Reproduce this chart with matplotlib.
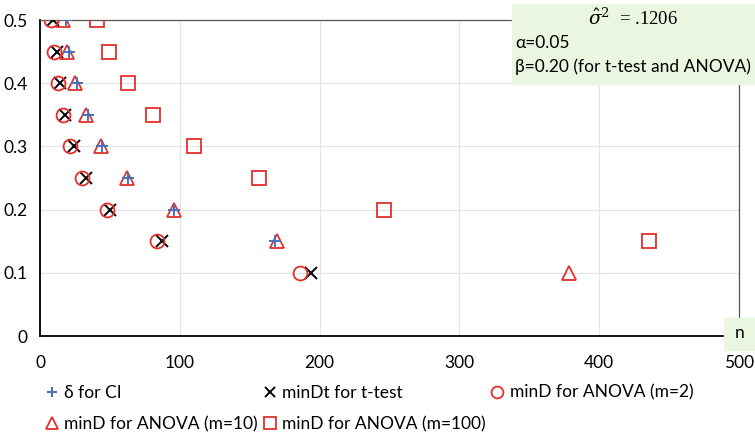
import matplotlib
matplotlib.use("Agg")
import matplotlib.pyplot as plt
from matplotlib.patches import Rectangle

plt.rcParams['font.family'] = ['Lato', 'DejaVu Sans']
plt.rcParams['mathtext.fontset'] = 'dejavuserif'

# effect sizes (y) and the sample sizes n (x) for each series
d_ci = [0.5, 0.45, 0.4, 0.35, 0.3, 0.25, 0.2, 0.15]
n_ci = [18.5, 21, 26.4, 34, 44.6, 63.3, 96, 168.3]

d_t = [0.5, 0.45, 0.4, 0.35, 0.3, 0.25, 0.2, 0.15, 0.1]
n_t = [9.6, 12.5, 14.4, 17.7, 24, 33.1, 50.4, 87, 193.7]

d_m2 = [0.5, 0.45, 0.4, 0.35, 0.3, 0.25, 0.2, 0.15, 0.1]
n_m2 = [7.7, 10.1, 12.9, 16.3, 21.6, 30.4, 48, 84, 186.3]

d_m10 = [0.5, 0.45, 0.4, 0.35, 0.3, 0.25, 0.2, 0.15, 0.1]
n_m10 = [16.8, 19.6, 24.7, 32.9, 43.7, 62.3, 95.9, 169.5, 378.4]

d_m100 = [0.5, 0.45, 0.4, 0.35, 0.3, 0.25, 0.2, 0.15]
n_m100 = [40.8, 49.6, 62.8, 80.8, 109.8, 157, 245.8, 435.7]

labels = ['δ for CI', 'minDt for t-test', 'minD for ANOVA (m=2)',
          'minD for ANOVA (m=10)', 'minD for ANOVA (m=100)']

red = '#E3302A'
blue = '#4472C4'
fs = 12.5

fig = plt.figure(figsize=(7.55, 4.4), dpi=100)
ax = fig.add_axes([40 / 755, 1 - 336 / 440, 699 / 755, 316 / 440])

h1, = ax.plot(n_ci, d_ci, ls='none', marker='+', ms=9, mew=1.4, color=blue, zorder=4)
h2, = ax.plot(n_t, d_t, ls='none', marker='x', ms=8, mew=1.4, color='black', zorder=3)
h3, = ax.plot(n_m2, d_m2, ls='none', marker='o', ms=10, mew=1.3, mfc='none', mec=red, zorder=3)
h4, = ax.plot(n_m10, d_m10, ls='none', marker='^', ms=9.5, mew=1.3, mfc='none', mec=red, zorder=3)
h5, = ax.plot(n_m100, d_m100, ls='none', marker='s', ms=9.5, mew=1.3, mfc='none', mec=red, zorder=3)

ax.set_xlim(0, 500)
ax.set_ylim(0, 0.5)
ax.set_xticks([0, 100, 200, 300, 400, 500])
ax.set_yticks([0, 0.1, 0.2, 0.3, 0.4, 0.5])
ax.set_yticklabels(['0', '0.1', '0.2', '0.3', '0.4', '0.5'])
ax.tick_params(length=0, labelsize=fs, colors='#000000')
ax.tick_params(axis='x', pad=14)
ax.tick_params(axis='y', pad=9)
ax.grid(color='#E4E4E4', lw=0.9, zorder=0)
ax.set_axisbelow(True)
for s in ['top', 'right']:
    ax.spines[s].set_color('#555555')
    ax.spines[s].set_linewidth(0.9)
for s in ['left', 'bottom']:
    ax.spines[s].set_color('black')
    ax.spines[s].set_linewidth(1.3)

# legend laid out row by row like the original
order = [h1, h4, h2, h5, h3]
names = [labels[0], labels[3], labels[1], labels[4], labels[2]]
leg = fig.legend(order, names, ncol=3, loc='upper left', bbox_to_anchor=(36 / 755, 1 - 376 / 440),
                 frameon=False, fontsize=fs, handlelength=0.8, handletextpad=0.3,
                 columnspacing=0.3, labelspacing=0.9, markerscale=0.85, borderpad=0)

# info box in the top right corner
fig.patches.append(Rectangle((512 / 755, 1 - 84 / 440), 243 / 755, 80 / 440,
                             transform=fig.transFigure, color='#EBF6E1', zorder=5))
fig.text(633 / 755, 1 - 18 / 440, r'$\hat{\sigma}^2$' + '  = .1206', ha='center', va='center',
         fontsize=13.5, family='Liberation Serif', zorder=6)
fig.text(515 / 755, 1 - 43 / 440, 'α=0.05', ha='left', va='center', fontsize=fs, zorder=6)
fig.text(515 / 755, 1 - 67 / 440, 'β=0.20 (for t-test and ANOVA)', ha='left', va='center',
         fontsize=fs, zorder=6)

# axis title box "n"
fig.patches.append(Rectangle((724 / 755, 1 - 350 / 440), 31 / 755, 32 / 440,
                             transform=fig.transFigure, color='#EBF6E1', zorder=5))
fig.text(740 / 755, 1 - 333 / 440, 'n', ha='center', va='center', fontsize=fs, zorder=6)

fig.savefig('out.png', dpi=100)
